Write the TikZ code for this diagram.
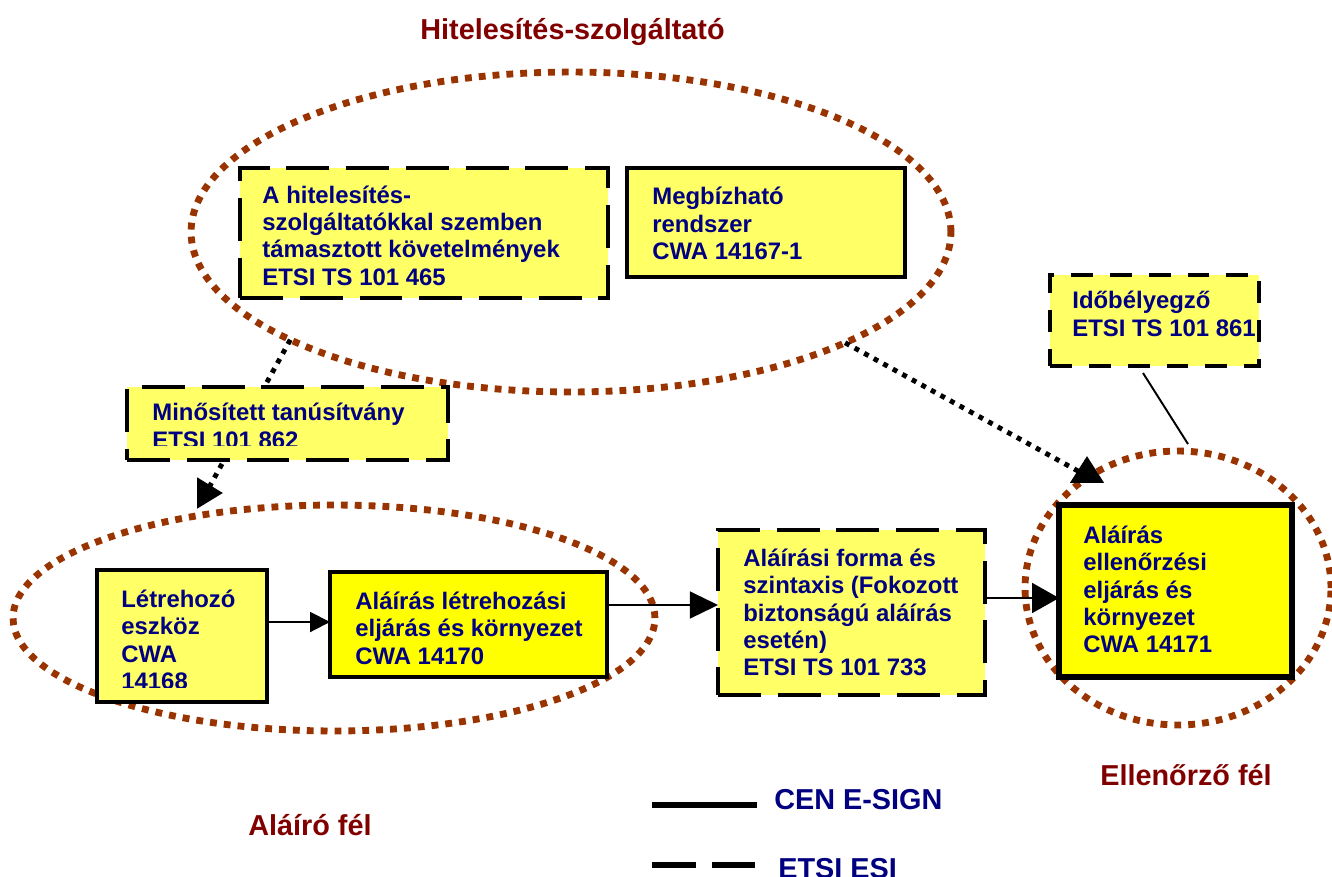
\documentclass[tikz,border=0pt]{standalone}
\usepackage{fontspec}
\setmainfont{Liberation Sans}
\usetikzlibrary{shapes.geometric,arrows.meta,calc}
\definecolor{txtblue}{HTML}{000080}
\definecolor{ttlred}{HTML}{800000}
\definecolor{dotbrown}{HTML}{993300}
\definecolor{lyellow}{HTML}{FFFF66}
\definecolor{dyellow}{HTML}{FFFF00}
\tikzset{
  ell/.style={ellipse, draw=dotbrown, line width=3.9pt, dash pattern=on 3.9pt off 4pt, inner sep=0pt, outer sep=0pt},
  dotconn/.style={draw=black, line width=2.8pt, dash pattern=on 2.8pt off 3.4pt},
  solidbox/.style={draw=black, fill=lyellow, line width=2.8pt, inner sep=0pt, outer sep=0pt},
  dashbox/.style={draw=black, fill=lyellow, line width=2.8pt, dash pattern=on 24.4pt off 9.6pt, inner sep=0pt, outer sep=0pt},
  boxtext/.style={anchor=west, align=left, inner sep=0pt, text=txtblue, font=\bfseries\fontsize{13.6}{15.6}\selectfont},
  ttl/.style={text=ttlred, font=\bfseries\fontsize{16.4}{19}\selectfont, inner sep=0pt},
  legtext/.style={text=txtblue, font=\bfseries\fontsize{16.4}{19}\selectfont, inner sep=0pt, anchor=base west},
  thinarrow/.style={draw=black, line width=1.1pt},
  legline/.style={draw=black, line width=3.4pt}
}
\begin{document}
\begin{tikzpicture}[x=0.02cm, y=-0.02cm]
\path[use as bounding box] (0,0) rectangle (1332,876);
% groups
\node[ell, minimum width=15.2cm, minimum height=6.4cm] (hsz) at (571,232) {};
\node[ell, minimum width=12.84cm, minimum height=4.52cm] (alf) at (334,618) {};
\node[ell, minimum width=6.12cm, minimum height=5.48cm] (elf) at (1178,588) {};
% dotted connectors
\coordinate (bend1) at (206,493);
\coordinate (tip1) at (223,493);
\draw[dotconn, -{Triangle[length=14.7pt,width=17pt]}] (hsz.201) -- (bend1) -- (tip1);
\coordinate (bend2) at (1087,476);
\coordinate (tip2) at (1087,456);
\draw[dotconn, -{Triangle[length=15.3pt,width=18.7pt]}] (hsz.-22) -- (bend2) -- (tip2);
% boxes
\node[dashbox, minimum width=7.36cm, minimum height=2.6cm] (boxa) at (424,233) {};
\node[solidbox, minimum width=5.56cm, minimum height=2.18cm] (megb) at (766,222.5) {};
\node[dashbox, dash pattern=on 12.5pt off 9.6pt, minimum width=4.18cm, minimum height=1.82cm] (ido) at (1154.5,320.5) {};
\node[dashbox, minimum width=6.42cm, minimum height=1.46cm] (minos) at (287.5,423.5) {};
\node[solidbox, line width=2.3pt, minimum width=3.4cm, minimum height=2.64cm] (letre) at (182,636) {};
\node[solidbox, fill=dyellow, minimum width=5.54cm, minimum height=2.1cm] (aleljar) at (468.5,624.5) {};
\node[dashbox, minimum width=5.34cm, minimum height=3.3cm] (forma) at (851.5,612.5) {};
\node[solidbox, fill=dyellow, line width=3.1pt, minimum width=4.66cm, minimum height=3.44cm] (ellen) at (1175.5,591) {};
% solid connectors
\draw[thinarrow, -{Triangle[length=11.3pt,width=11.3pt]}] (letre.east |- 0,622) -- (aleljar.west |- 0,622);
\draw[thinarrow, -{Triangle[length=16pt,width=15.3pt]}] (aleljar.east |- 0,605) -- (forma.west |- 0,605);
\draw[thinarrow, -{Triangle[length=15.3pt,width=17pt]}] (forma.east |- 0,598) -- (ellen.west |- 0,598);
\draw[thinarrow] ($(ido.south)+(-11.5,7)$) -- ($(elf.north)+(10,-7)$);
% box texts
\node[boxtext] (tboxa) at ($(boxa.west)+(22,2.5)$) {A hitelesítés-\\szolgáltatókkal szemben\\támasztott követelmények\\ETSI TS 101 465};
\node[boxtext] (tmegb) at ($(megb.west)+(25,1)$) {Megbízható\\rendszer\\CWA 14167-1};
\node[boxtext] (tido) at ($(ido.west)+(22,-6.5)$) {Időbélyegző\\ETSI TS 101 861};
\begin{scope}
\clip (minos.north west) rectangle ($(minos.south east)+(0,-15)$);
\node[boxtext] (tminos) at ($(minos.west)+(25,2.5)$) {Minősített tanúsítvány\\ETSI 101 862};
\end{scope}
\begin{scope}
\clip (letre.north west) rectangle ($(letre.south east)+(0,-14)$);
\node[boxtext] (tletre) at ($(letre.west)+(24,4)$) {Létrehozó\\eszköz\\CWA\\14168};
\end{scope}
\node[boxtext] (taleljar) at ($(aleljar.west)+(25,3.5)$) {Aláírás létrehozási\\eljárás és környezet\\CWA 14170};
\node[boxtext] (tforma) at ($(forma.west)+(25,0)$) {Aláírási forma és\\szintaxis (Fokozott\\biztonságú aláírás\\esetén)\\ETSI TS 101 733};
\node[boxtext] (tellen) at ($(ellen.west)+(24,-1.5)$) {Aláírás\\ellenőrzési\\eljárás és\\környezet\\CWA 14171};
% titles
\node[ttl, anchor=base] (t1) at (572.5,39) {Hitelesítés-szolgáltató};
\node[ttl, anchor=base west] (t2) at (248,835) {Aláíró fél};
\node[ttl, anchor=base west] (t3) at (1100,785) {Ellenőrző fél};
% legend
\coordinate (ls1) at (652,805);
\coordinate (ls2) at (757,805);
\coordinate (ld1) at (652,865);
\coordinate (ld2) at (756,865);
\draw[legline] (ls1) -- (ls2);
\draw[legline, dash pattern=on 24.9pt off 9.1pt] (ld1) -- (ld2);
\node[legtext] (l1) at (774,809) {CEN E-SIGN};
\node[legtext] (l2) at (778,878) {ETSI ESI};
\end{tikzpicture}
\end{document}
